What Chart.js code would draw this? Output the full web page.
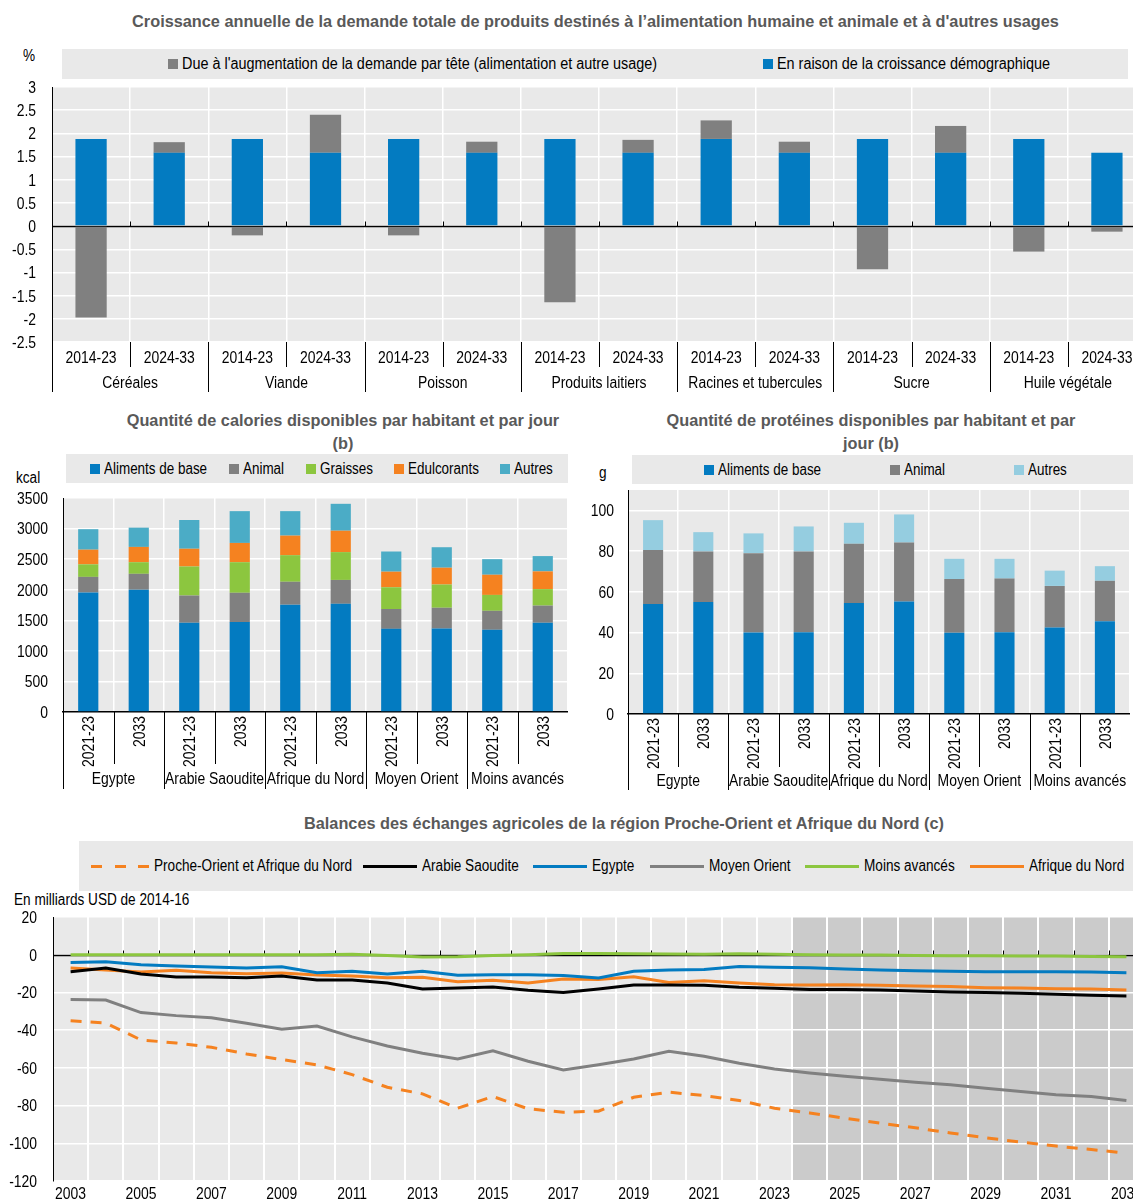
<!DOCTYPE html>
<html lang="fr">
<head>
<meta charset="utf-8">
<title>Proche-Orient et Afrique du Nord</title>
<script src="https://cdn.jsdelivr.net/npm/chart.js@4.4.1/dist/chart.umd.min.js"></script>
<style>
  html, body { margin: 0; padding: 0; background: #fff; }
  body { position: relative; width: 1133px; height: 1201px; overflow: hidden;
         font-family: 'Liberation Sans', Arial, sans-serif; color: #000; }
  canvas { position: absolute; }
  .titre { position: absolute; font-weight: bold; font-size: 16.3px; line-height: 23px; color: #595959;
           text-align: center; white-space: nowrap; }
  .legende { position: absolute; background: #e9e9e9; font-size: 16px; white-space: nowrap; }
  .legende .item { position: absolute; top: 0; bottom: 0; display: flex; align-items: center; }
  .legende .texte { display: inline-block; transform-origin: left center; }
  .carre { display: inline-block; width: 10px; height: 10px; margin-right: 3.5px; }
  .trait { display: inline-block; width: 54px; height: 3px; margin-right: 5px; }
  .trait.tirets { width: 58px; }
  .unite { position: absolute; font-size: 16px; line-height: 20px; white-space: nowrap;
           transform: scaleX(0.85); transform-origin: left center; }
</style>
</head>
<body>

<div class="titre" style="left:0; top:10px; width:1191px">Croissance annuelle de la demande totale de produits destinés à l’alimentation humaine et animale et à d'autres usages</div>
<div class="legende" id="leg1" style="left:62px; top:49px; width:1066px; height:30px"></div>
<div class="unite" style="left:23px; top:46px">%</div>
<canvas id="c1" width="1146" height="320" style="left:0; top:80px"></canvas>

<div class="titre" style="left:43px; top:409px; width:600px">Quantité de calories disponibles par habitant et par jour<br>(b)</div>
<div class="legende" id="leg2" style="left:66px; top:454px; width:502px; height:29px"></div>
<div class="unite" style="left:16px; top:468px">kcal</div>
<canvas id="c2" width="568" height="310" style="left:0; top:490px"></canvas>

<div class="titre" style="left:571px; top:409px; width:600px">Quantité de protéines disponibles par habitant et par<br>jour (b)</div>
<div class="legende" id="leg3" style="left:632px; top:455px; width:501px; height:29px"></div>
<div class="unite" style="left:599px; top:463px">g</div>
<canvas id="c3" width="550" height="318" style="left:580px; top:482px"></canvas>

<div class="titre" style="left:224px; top:812px; width:800px">Balances des échanges agricoles de la région Proche-Orient et Afrique du Nord (c)</div>
<div class="legende" id="leg4" style="left:79px; top:841px; width:1054px; height:50px"></div>
<div class="unite" style="left:14px; top:890px">En milliards USD de 2014-16</div>
<canvas id="c4" width="1144" height="300" style="left:0; top:905px"></canvas>

<script>
// --- Croissance annuelle de la demande (%) ---
const produits = ['Céréales', 'Viande', 'Poisson', 'Produits laitiers', 'Racines et tubercules', 'Sucre', 'Huile végétale'];
const periodes = ['2014-23', '2024-33'];
const nomParTete = "Due à l'augmentation de la demande par tête (alimentation et autre usage)";
const nomDemographie = 'En raison de la croissance démographique';
const croissanceDemographie = [1.88, 1.58, 1.88, 1.58, 1.88, 1.58, 1.88, 1.58, 1.88, 1.58, 1.88, 1.58, 1.88, 1.58];
const croissanceParTete = [-1.97, 0.23, -0.2, 0.82, -0.2, 0.24, -1.64, 0.28, 0.4, 0.24, -0.93, 0.58, -0.55, -0.12];

// --- Calories et protéines par habitant et par jour ---
const regions = ['Egypte', 'Arabie Saoudite', 'Afrique du Nord', 'Moyen Orient', 'Moins avancés'];
const horizons = ['2021-23', '2033'];
const calBase = [1955, 2000, 1460, 1470, 1755, 1770, 1360, 1365, 1345, 1460];
const calAnimal = [255, 260, 445, 480, 375, 390, 325, 340, 310, 280];
const calGraisses = [205, 190, 475, 500, 435, 455, 355, 380, 260, 270];
const calEdulcorants = [240, 250, 290, 315, 320, 350, 255, 275, 330, 290];
const calAutres = [335, 315, 470, 520, 400, 440, 330, 335, 255, 250];
const protBase = [54, 55, 40, 40.2, 54.5, 55.3, 39.9, 40.1, 42.5, 45.6];
const protAnimal = [26.5, 24.8, 39, 39.6, 29.1, 28.9, 26.4, 26.4, 20.4, 19.8];
const protAutres = [14.7, 9.5, 9.7, 12.3, 10.3, 13.8, 9.9, 9.7, 7.5, 7.2];

// --- Balances commerciales agricoles (milliards USD de 2014-16) ---
const annees = ['2003', '2004', '2005', '2006', '2007', '2008', '2009', '2010', '2011', '2012', '2013',
  '2014', '2015', '2016', '2017', '2018', '2019', '2020', '2021', '2022', '2023', '2024', '2025',
  '2026', '2027', '2028', '2029', '2030', '2031', '2032', '2033'];
const debutProjection = '2024';
const balPoan = [-35.0, -36.2, -45.2, -46.8, -49.1, -52.6, -55.6, -58.4, -63.6, -70.3, -73.8, -81.4, -75.2, -81.7, -83.5,
  -83.0, -75.6, -72.9, -74.7, -77.3, -81.4, -83.9, -86.7, -89.3, -91.8, -94.5, -97.1, -99.4, -101.5, -103.3, -105.2];
const balArabie = [-9.0, -7.1, -10.2, -11.8, -11.8, -12.2, -11.3, -13.4, -13.4, -15.0, -18.2, -17.7, -17.1, -18.9, -20.0,
  -18.2, -16.1, -16.1, -16.2, -17.3, -17.8, -18.4, -18.5, -18.7, -19.2, -19.8, -20.1, -20.5, -21.0, -21.5, -21.9];
const balEgypte = [-4.1, -3.7, -5.3, -6.0, -6.5, -7.1, -6.4, -9.5, -8.8, -10.2, -8.8, -10.9, -10.6, -10.6, -11.0,
  -12.4, -8.8, -8.1, -7.8, -6.2, -6.7, -6.9, -7.6, -8.1, -8.5, -8.8, -9.0, -9.0, -9.0, -9.2, -9.5];
const balMoyenOrient = [-23.8, -24.0, -30.7, -32.3, -33.4, -36.4, -39.5, -37.8, -43.6, -48.4, -52.3, -55.3, -51.0, -56.5, -61.1,
  -58.4, -55.3, -51.2, -53.8, -57.6, -60.6, -62.7, -64.4, -66.0, -67.6, -69.0, -70.8, -72.6, -74.2, -75.2, -77.3];
const balMoinsAvances = [0, 0, 0, 0, 0, 0, 0, 0, 0.2, -0.4, -1.2, -1.1, -0.4, 0, 0.7,
  0.7, 0.5, 0.4, 0.2, 0.5, 0.2, 0, -0.2, -0.2, -0.4, -0.5, -0.5, -0.7, -0.7, -0.9, -1.1];
const balAfriqueNord = [-7.1, -8.1, -9.2, -8.3, -9.5, -10.1, -9.7, -10.8, -11.3, -12.2, -12.0, -14.3, -13.6, -15.0, -12.9,
  -13.2, -11.7, -14.7, -13.8, -15.0, -15.9, -16.1, -15.9, -16.2, -16.6, -16.9, -17.5, -17.7, -18.0, -18.2, -18.7];

// couleurs
const BLEU = '#037bc1', GRIS = '#808080', VERT = '#8cc63f', ORANGE = '#f58220',
      CYAN = '#4bacc6', CYAN_CLAIR = '#95cde0', NOIR = '#000000';
const FOND = '#e9e9e9', OMBRE = '#cbcbcb';

// police étroite : on resserre le texte horizontalement au dessin
const POLICE = "16px 'Liberation Sans', Arial, sans-serif";
const SERRE = 0.87;
const DECALAGE_TEXTE = 1.5;   // recentre visuellement les chiffres sur leur repère

Chart.defaults.font.family = "'Liberation Sans', Arial, sans-serif";
Chart.defaults.font.size = 16;
Chart.defaults.color = '#000';
Chart.defaults.animation = false;
Chart.defaults.responsive = false;
Chart.defaults.plugins.legend.display = false;
Chart.defaults.plugins.tooltip.enabled = false;

function texteEtroit(ctx, t, x, y) {
  ctx.fillText(t, x, y, ctx.measureText(t).width * SERRE);
}

// fond gris de la zone de tracé, avec la zone de projection plus foncée
const fondTrace = {
  id: 'fondTrace',
  beforeDraw(chart, args, opts) {
    const { ctx, chartArea: a, scales: { x } } = chart;
    ctx.save();
    ctx.fillStyle = FOND;
    ctx.fillRect(a.left, a.top, a.right - a.left, a.bottom - a.top);
    if (opts.depuis) {
      const i = chart.data.labels.indexOf(opts.depuis);
      const xd = (x.getPixelForValue(i - 1) + x.getPixelForValue(i)) / 2;
      ctx.fillStyle = OMBRE;
      ctx.fillRect(xd, a.top, a.right - xd, a.bottom - a.top);
    }
    ctx.restore();
  }
};

// ligne du zéro avec petites graduations entre catégories
const ligneZero = {
  id: 'ligneZero',
  beforeDatasetsDraw(chart, args, opts) {
    if (!opts.actif) return;
    const { ctx, chartArea: a, scales: { x, y } } = chart;
    const y0 = Math.round(y.getPixelForValue(0)) + 0.5;
    const n = chart.data.labels.length;
    ctx.save();
    ctx.strokeStyle = NOIR;
    ctx.lineWidth = 1.5;
    ctx.beginPath();
    ctx.moveTo(a.left, y0);
    ctx.lineTo(a.right, y0);
    ctx.stroke();
    ctx.lineWidth = 1;
    ctx.beginPath();
    for (let i = 1; i < n; i++) {
      const xb = Math.round((x.getPixelForValue(i - 1) + x.getPixelForValue(i)) / 2) + 0.5;
      ctx.moveTo(xb, y0);
      ctx.lineTo(xb, y0 - 5);
    }
    ctx.stroke();
    ctx.restore();
  }
};

// étiquettes des axes (dessinées en texte étroit)
const etiquettes = {
  id: 'etiquettes',
  afterDraw(chart, args, opts) {
    const { ctx, chartArea: a, scales: { x, y } } = chart;
    ctx.save();
    ctx.font = POLICE;
    ctx.fillStyle = '#000';
    ctx.textAlign = 'right';
    ctx.textBaseline = 'middle';
    y.ticks.forEach((t, i) =>
      texteEtroit(ctx, t.label, a.left - opts.ecartY, y.getPixelForTick(i) + DECALAGE_TEXTE));
    x.ticks.forEach((t, i) => {
      if (!t.label) return;
      const px = x.getPixelForTick(i);
      if (opts.vertical) {
        ctx.save();
        ctx.translate(px + DECALAGE_TEXTE, a.bottom + opts.ecartX);
        ctx.rotate(-Math.PI / 2);
        ctx.textAlign = 'right';
        texteEtroit(ctx, t.label, 0, 0);
        ctx.restore();
      } else {
        ctx.textAlign = 'center';
        texteEtroit(ctx, t.label, px, a.bottom + opts.ecartX + DECALAGE_TEXTE);
      }
    });
    ctx.restore();
  }
};

// second niveau d'étiquettes : séparateurs et noms de groupes sous l'axe
const axeGroupes = {
  id: 'axeGroupes',
  afterDraw(chart, args, opts) {
    if (!opts.groupes) return;
    const { ctx, chartArea: a, scales: { x } } = chart;
    const n = chart.data.labels.length;
    const k = opts.parGroupe;
    const bord = i => Math.round((x.getPixelForValue(i - 1) + x.getPixelForValue(i)) / 2) + 0.5;
    ctx.save();
    ctx.strokeStyle = NOIR;
    ctx.lineWidth = 1;
    ctx.beginPath();
    for (let i = 0; i <= n; i++) {
      const xb = bord(i);
      ctx.moveTo(xb, a.bottom);
      ctx.lineTo(xb, a.bottom + (i % k === 0 ? opts.longGroupe : opts.longSous));
    }
    ctx.stroke();
    ctx.fillStyle = '#000';
    ctx.font = POLICE;
    ctx.textAlign = 'center';
    ctx.textBaseline = 'middle';
    opts.groupes.forEach((g, j) => {
      const xc = (x.getPixelForValue(j * k) + x.getPixelForValue(j * k + k - 1)) / 2;
      texteEtroit(ctx, g, xc, a.bottom + opts.decalage + DECALAGE_TEXTE);
    });
    ctx.restore();
  }
};

const grille = { color: '#ffffff', lineWidth: 1.5, drawTicks: false };
const sansVirgule = v => String(v);

// légende HTML : chaque entrée placée à son abscisse
function legende(id, items, positions, serre) {
  const el = document.getElementById(id);
  const x0 = parseFloat(el.style.left);
  items.forEach((it, i) => {
    const s = document.createElement('span');
    s.className = 'item';
    s.style.left = (positions[i] - x0) + 'px';
    const m = document.createElement('span');
    if (it.trait) {
      m.className = it.tirets ? 'trait tirets' : 'trait';
      m.style.background = it.tirets
        ? `repeating-linear-gradient(90deg, ${it.couleur} 0 11px, transparent 11px 23.5px)`
        : it.couleur;
    } else {
      m.className = 'carre';
      m.style.background = it.couleur;
    }
    const t = document.createElement('span');
    t.className = 'texte';
    t.style.transform = `scaleX(${serre})`;
    t.textContent = it.nom;
    s.appendChild(m);
    s.appendChild(t);
    el.appendChild(s);
  });
}

// 1. croissance de la demande
const etiquettes1 = produits.flatMap(() => periodes);
new Chart(document.getElementById('c1'), {
  type: 'bar',
  data: {
    labels: etiquettes1,
    datasets: [
      { label: nomDemographie, data: croissanceDemographie, backgroundColor: BLEU },
      { label: nomParTete, data: croissanceParTete, backgroundColor: GRIS }
    ]
  },
  options: {
    layout: { padding: { top: 7 } },
    datasets: { bar: { categoryPercentage: 1, barPercentage: 0.4 } },
    scales: {
      x: {
        stacked: true,
        grid: { ...grille, offset: true },
        border: { display: false },
        ticks: { display: false },
        afterFit: s => { s.height = 58; }
      },
      y: {
        stacked: true, min: -2.5, max: 3,
        ticks: { display: false, stepSize: 0.5, callback: sansVirgule },
        grid: grille,
        border: { color: NOIR, width: 1 },
        afterFit: s => { s.width = 52; }
      }
    },
    plugins: {
      ligneZero: { actif: true },
      etiquettes: { ecartY: 16, ecartX: 15 },
      axeGroupes: { groupes: produits, parGroupe: 2, longSous: 25, longGroupe: 50, decalage: 40 }
    }
  },
  plugins: [fondTrace, ligneZero, etiquettes, axeGroupes]
});
legende('leg1', [
  { nom: nomParTete, couleur: GRIS },
  { nom: nomDemographie, couleur: BLEU }
], [168, 763], 0.9);

// 2. et 3. barres empilées calories / protéines
const etiquettesRegions = regions.flatMap(() => horizons);
function barresEmpilees(id, series, o) {
  return new Chart(document.getElementById(id), {
    type: 'bar',
    data: {
      labels: etiquettesRegions,
      datasets: series.map(s => ({ label: s.nom, data: s.valeurs, backgroundColor: s.couleur }))
    },
    options: {
      layout: { padding: { top: 8 } },
      datasets: { bar: { categoryPercentage: 1, barPercentage: 0.4 } },
      scales: {
        x: {
          stacked: true,
          grid: { ...grille, offset: true },
          border: { color: NOIR, width: 1.5 },
          ticks: { display: false },
          afterFit: s => { s.height = o.hauteurX; }
        },
        y: {
          stacked: true, min: 0, max: o.max,
          ticks: { display: false, stepSize: o.pas, callback: sansVirgule },
          afterBuildTicks: s => { s.ticks = s.ticks.filter(t => t.value <= o.dernier); },
          grid: grille,
          border: { color: NOIR, width: 1 },
          afterFit: s => { s.width = o.largeurY; }
        }
      },
      plugins: {
        etiquettes: { ecartY: o.ecartY, ecartX: 4, vertical: true },
        axeGroupes: { groupes: regions, parGroupe: 2, longSous: o.longSous, longGroupe: o.longGroupe, decalage: o.decalage }
      }
    },
    plugins: [fondTrace, etiquettes, axeGroupes]
  });
}

const seriesCalories = [
  { nom: 'Aliments de base', valeurs: calBase, couleur: BLEU },
  { nom: 'Animal', valeurs: calAnimal, couleur: GRIS },
  { nom: 'Graisses', valeurs: calGraisses, couleur: VERT },
  { nom: 'Edulcorants', valeurs: calEdulcorants, couleur: ORANGE },
  { nom: 'Autres', valeurs: calAutres, couleur: CYAN }
];
barresEmpilees('c2', seriesCalories, {
  max: 3500, pas: 500, dernier: 3500, ecartY: 15, largeurY: 63, hauteurX: 88,
  longSous: 52, longGroupe: 77, decalage: 66
});
legende('leg2', seriesCalories, [90, 229, 306, 394, 500], 0.84);

const seriesProteines = [
  { nom: 'Aliments de base', valeurs: protBase, couleur: BLEU },
  { nom: 'Animal', valeurs: protAnimal, couleur: GRIS },
  { nom: 'Autres', valeurs: protAutres, couleur: CYAN_CLAIR }
];
barresEmpilees('c3', seriesProteines, {
  max: 110, pas: 20, dernier: 100, ecartY: 14, largeurY: 48, hauteurX: 86,
  longSous: 53, longGroupe: 76, decalage: 66
});
legende('leg3', seriesProteines, [704, 890, 1014], 0.84);

// 4. balances commerciales
const seriesBalances = [
  { nom: 'Proche-Orient et Afrique du Nord', valeurs: balPoan, couleur: ORANGE, tirets: true },
  { nom: 'Arabie Saoudite', valeurs: balArabie, couleur: NOIR },
  { nom: 'Egypte', valeurs: balEgypte, couleur: BLEU },
  { nom: 'Moyen Orient', valeurs: balMoyenOrient, couleur: GRIS },
  { nom: 'Moins avancés', valeurs: balMoinsAvances, couleur: VERT },
  { nom: 'Afrique du Nord', valeurs: balAfriqueNord, couleur: ORANGE }
];
new Chart(document.getElementById('c4'), {
  type: 'line',
  data: {
    labels: annees,
    datasets: seriesBalances.map(s => ({
      label: s.nom, data: s.valeurs, borderColor: s.couleur, backgroundColor: s.couleur,
      borderWidth: 3, pointRadius: 0, fill: false, tension: 0,
      borderDash: s.tirets ? [11, 9] : []
    }))
  },
  options: {
    layout: { padding: { top: 12 } },
    scales: {
      x: {
        offset: true,
        grid: { ...grille, lineWidth: 2, offset: true },
        border: { display: false },
        ticks: {
          display: false,
          callback: function (v, i) { return i % 2 === 0 ? this.getLabelForValue(v) : ''; }
        },
        afterFit: s => { s.height = 24; }
      },
      y: {
        min: -120, max: 20,
        ticks: { display: false, stepSize: 20, callback: sansVirgule },
        grid: grille,
        border: { color: NOIR, width: 1 },
        afterFit: s => { s.width = 53; }
      }
    },
    plugins: {
      fondTrace: { depuis: debutProjection },
      ligneZero: { actif: true },
      etiquettes: { ecartY: 16, ecartX: 12 }
    }
  },
  plugins: [fondTrace, ligneZero, etiquettes]
});
legende('leg4', seriesBalances.map(s => ({ nom: s.nom, couleur: s.couleur, trait: true, tirets: s.tirets })),
  [91, 363, 533, 650, 805, 970], 0.85);
</script>
</body>
</html>
